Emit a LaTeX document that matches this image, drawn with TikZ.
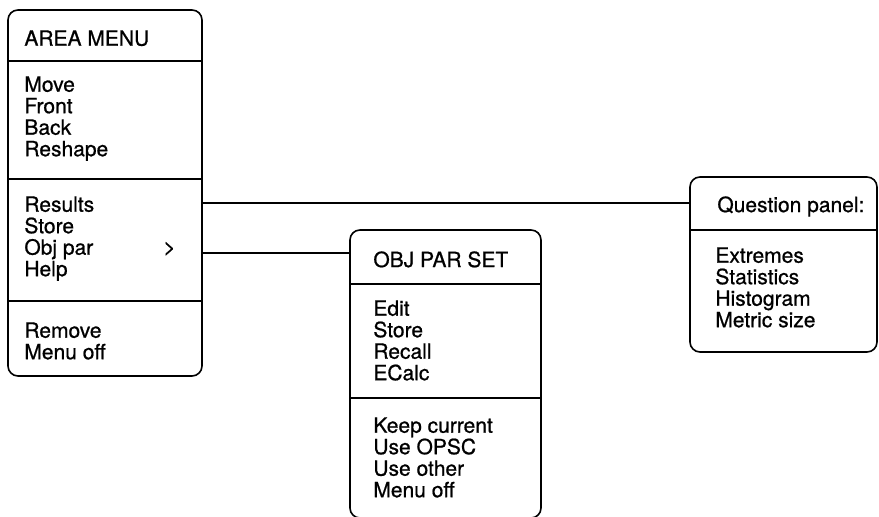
\documentclass[tikz,border=0pt]{standalone}
\usepackage{fontspec}
\setmainfont{TeX Gyre Heros}[FakeBold=0.8]
\usetikzlibrary{fit}

\begin{document}
\begin{tikzpicture}[
  x=0.5pt, y=-0.5pt,
  font=\fontsize{10.5}{10.75}\selectfont,
  menu/.style={draw, line width=0.8pt, rounded corners=5pt, inner sep=0pt},
  items/.style={anchor=north west, align=left, inner sep=0pt},
  rule/.style={line width=0.8pt},
  link/.style={line width=0.7pt}
]
\useasboundingbox (0,0) rectangle (879,517);

% area menu
\node[menu, fit={(8,10) (202,376)}] (area) {};
\node[items] (area-title) at (24,30) {AREA MENU};
\node[items] (area-edit) at (24,76) {Move\\Front\\Back\\Reshape};
\node[items] (area-info) at (24,196) {Results\\Store\\Obj par\\Help};
\node[items] (area-exit) at (24,322) {Remove\\Menu off};
\node[anchor=base west, inner sep=0pt] (area-more) at (163,254) {>};
\draw[rule] (area.west |- 0,61) -- (area.east |- 0,61);
\draw[rule] (area.west |- 0,179) -- (area.east |- 0,179);
\draw[rule] (area.west |- 0,301) -- (area.east |- 0,301);

% object parameter set
\node[menu, fit={(350,230) (541,518)}] (objset) {};
\node[items] (obj-title) at (373,251) {OBJ PAR SET};
\node[items] (obj-edit) at (373,300) {Edit\\Store\\Recall\\ECalc};
\node[items] (obj-keep) at (373,417) {Keep current\\Use OPSC\\Use other\\Menu off};
\draw[rule] (objset.west |- 0,284) -- (objset.east |- 0,284);
\draw[rule] (objset.west |- 0,398) -- (objset.east |- 0,398);

% question panel
\node[menu, fit={(690,177) (877,352)}] (qpanel) {};
\node[items] (qp-title) at (717,196) {Question panel:};
\node[items] (qp-list) at (715,247) {Extremes\\Statistics\\Histogram\\Metric size};
\draw[rule] (qpanel.west |- 0,230) -- (qpanel.east |- 0,230);

% links
\draw[link] (area.east |- 0,203) -- (qpanel.west |- 0,203);
\draw[link] (area.east |- 0,253) -- (objset.west |- 0,253);

\end{tikzpicture}
\end{document}
